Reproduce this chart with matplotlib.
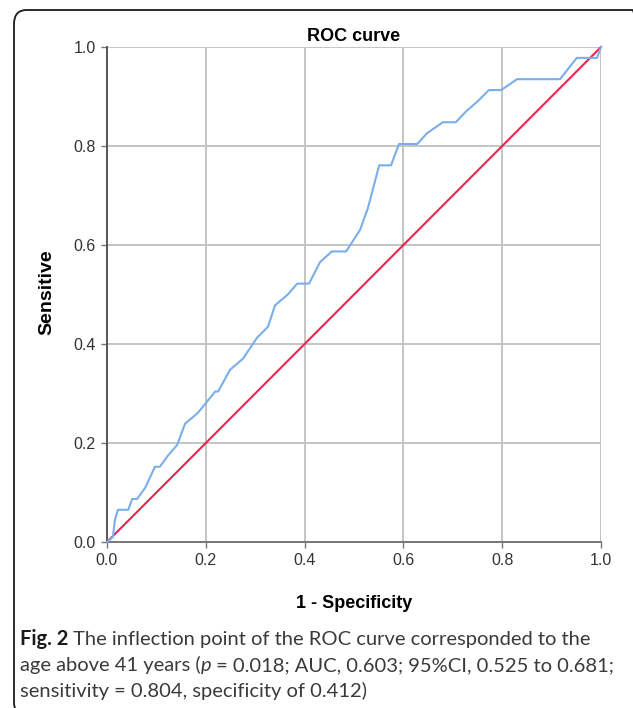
import matplotlib
matplotlib.use('Agg')
import matplotlib.pyplot as plt
from matplotlib.patches import FancyBboxPatch

# ROC curve points (1 - specificity, sensitivity)
fpr = [0.0, 0.012, 0.016, 0.022, 0.043, 0.051, 0.061, 0.077, 0.097, 0.107,
       0.123, 0.142, 0.158, 0.184, 0.202, 0.219, 0.225, 0.249, 0.275, 0.304,
       0.326, 0.340, 0.366, 0.385, 0.409, 0.431, 0.455, 0.484, 0.512, 0.528,
       0.551, 0.575, 0.591, 0.628, 0.648, 0.680, 0.706, 0.727, 0.751, 0.773,
       0.798, 0.830, 0.917, 0.951, 0.992, 1.0]
tpr = [0.0, 0.010, 0.044, 0.065, 0.065, 0.087, 0.087, 0.109, 0.152, 0.152,
       0.174, 0.196, 0.239, 0.261, 0.283, 0.304, 0.304, 0.348, 0.370, 0.413,
       0.435, 0.478, 0.500, 0.522, 0.522, 0.565, 0.587, 0.587, 0.630, 0.674,
       0.761, 0.761, 0.804, 0.804, 0.826, 0.848, 0.848, 0.870, 0.891, 0.913,
       0.913, 0.935, 0.935, 0.978, 0.978, 1.0]
ref_line = [0.0, 1.0]
ticks = [0.0, 0.2, 0.4, 0.6, 0.8, 1.0]

caption_lines = [
    [('Fig. 2', 'bold'), (' The inflection point of the ROC curve corresponded to the', 'normal')],
    [('age above 41 years (', 'normal'), ('p', 'italic'),
     (' = 0.018; AUC, 0.603; 95%CI, 0.525 to 0.681;', 'normal')],
    [('sensitivity = 0.804, specificity of 0.412)', 'normal')],
]

W, H = 633, 708
fig = plt.figure(figsize=(W / 100, H / 100), dpi=100)


def fx(px):
    return px / W


def fy(py):
    return 1 - py / H


# rounded frame around the figure panel (right and bottom edges run off the image)
frame = FancyBboxPatch((fx(14), fy(716)), fx(645) - fx(14), fy(10) - fy(716),
                       boxstyle='round,pad=0,rounding_size=0.02',
                       transform=fig.transFigure, facecolor='none',
                       edgecolor='#1a1a1a', linewidth=1.3, clip_on=False)
fig.patches.append(frame)

ax = fig.add_axes([fx(107), fy(542), fx(601) - fx(107), fy(47) - fy(542)])
ax.set_xlim(0, 1)
ax.set_ylim(0, 1)
ax.set_xticks(ticks)
ax.set_yticks(ticks)
ax.set_xticklabels([f'{t:.1f}' for t in ticks])
ax.set_yticklabels([f'{t:.1f}' for t in ticks])
ax.grid(True, color='#c4c4c4', linewidth=1.4)
ax.set_axisbelow(True)
for side in ['top', 'right']:
    ax.spines[side].set_visible(False)
ax.spines['left'].set_color('#555555')
ax.spines['bottom'].set_color('#777777')
ax.spines['left'].set_linewidth(1.4)
ax.spines['bottom'].set_linewidth(1.4)
ax.tick_params(length=4, width=1.0, color='#777777', labelsize=11.5,
               labelcolor='#333333', pad=4)
for lab in ax.get_xticklabels() + ax.get_yticklabels():
    lab.set_fontfamily('Liberation Sans')

ax.plot(ref_line, ref_line, color='#e8264d', linewidth=1.5, clip_on=False, zorder=3)
ax.plot(fpr, tpr, color='#7aaeea', linewidth=1.5, clip_on=False, zorder=4)

fig.text(fx(354), fy(41), 'ROC curve', ha='center', va='baseline',
         fontsize=13, fontweight='bold', family='Liberation Sans')
fig.text(fx(354), fy(608), '1 - Specificity', ha='center', va='baseline',
         fontsize=13, fontweight='bold', family='Liberation Sans')
fig.text(fx(47), fy(292), 'Sensitive', ha='center', va='center', rotation=90,
         fontsize=14, fontweight='bold', family='Liberation Sans')

# caption: font size fitted so the first line ends where it does in the figure
cap_font = 'Lato'
renderer = fig.canvas.get_renderer()


def put_runs(x, y, runs, size, draw=True):
    x0 = x
    made = []
    for txt, style in runs:
        opts = dict(fontsize=size, family=cap_font, color='#3a3a3a')
        if style == 'bold':
            opts.update(fontweight='bold', color='#1a1a1a')
        elif style == 'italic':
            opts.update(style='italic')
        t = fig.text(fx(x), fy(y), txt, ha='left', va='baseline', **opts)
        x += t.get_window_extent(renderer=renderer).width
        made.append(t)
    if not draw:
        for t in made:
            t.remove()
    return x - x0


trial = 15
w = put_runs(20, 645, caption_lines[0], trial, draw=False)
cap_size = trial * 572 / w

for line, base in zip(caption_lines, [645, 671, 697]):
    put_runs(20, base, line, cap_size)

fig.savefig('out.png', dpi=100)
